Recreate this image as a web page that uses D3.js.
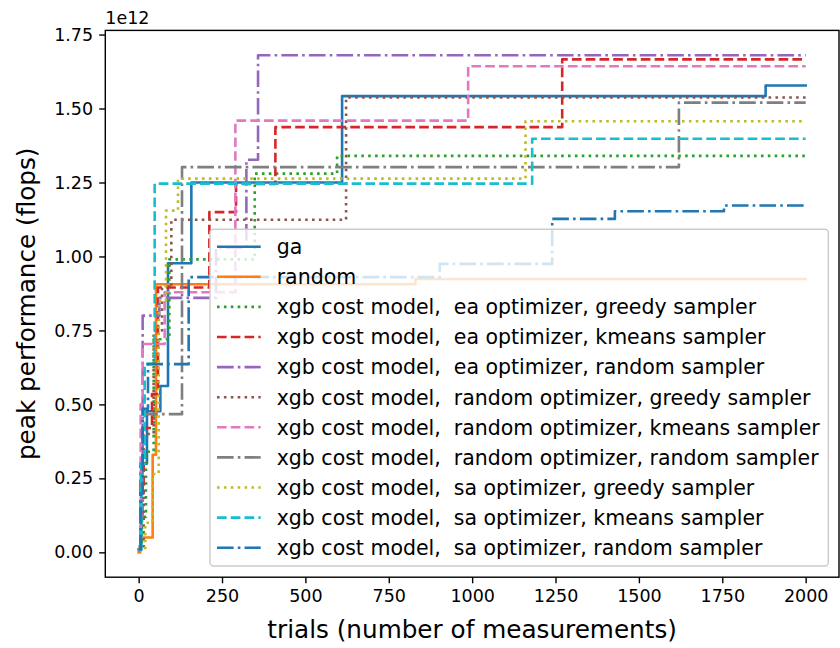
<!DOCTYPE html>
<html>
<head>
<meta charset="utf-8">
<script src="https://cdn.jsdelivr.net/npm/d3@7/dist/d3.min.js"></script>
<style>
  html, body { margin: 0; padding: 0; background: #fff; }
  svg { display: block; font-family: "DejaVu Sans", sans-serif; }
  text { white-space: pre; }
</style>
</head>
<body>
<svg id="chart" width="840" height="648"></svg>
<script>
// Best peak performance (in units of 1e12 flops) found after n trials, per tuner.
// Each series is a list of [trial, best-so-far] step points.
const seriesNames = [
  "ga",
  "random",
  "xgb cost model,  ea optimizer, greedy sampler",
  "xgb cost model,  ea optimizer, kmeans sampler",
  "xgb cost model,  ea optimizer, random sampler",
  "xgb cost model,  random optimizer, greedy sampler",
  "xgb cost model,  random optimizer, kmeans sampler",
  "xgb cost model,  random optimizer, random sampler",
  "xgb cost model,  sa optimizer, greedy sampler",
  "xgb cost model,  sa optimizer, kmeans sampler",
  "xgb cost model,  sa optimizer, random sampler"
];

const gaSteps = [[0,0.01],[8,0.3],[25,0.477],[65,0.562],[88,0.977],[158,1.25],[610,1.542],[1880,1.578],[2000,1.578]];
const randomSteps = [[0,0],[5,0.05],[42,0.33],[52,0.906],[830,0.924],[2000,0.924]];
const eaGreedySteps = [[0,0.02],[10,0.12],[22,0.34],[45,0.72],[92,0.99],[348,1.28],[595,1.34],[2000,1.34]];
const eaKmeansSteps = [[0,0.01],[6,0.2],[15,0.42],[40,0.535],[58,0.895],[212,1.15],[292,1.245],[410,1.437],[1270,1.666],[2000,1.666]];
const eaRandomSteps = [[0,0.02],[5,0.12],[12,0.8],[62,0.86],[232,1.03],[323,1.327],[358,1.68],[2000,1.68]];
const rndGreedySteps = [[0,0.01],[15,0.4],[45,0.75],[70,0.9],[98,1.124],[622,1.537],[2000,1.537]];
const rndKmeansSteps = [[0,0.02],[6,0.5],[12,0.704],[78,0.879],[290,1.459],[988,1.643],[2000,1.643]];
const rndRandomSteps = [[0,0.01],[5,0.3],[12,0.467],[130,1.302],[1620,1.52],[2000,1.52]];
const saGreedySteps = [[0,0.01],[20,0.1],[42,0.265],[60,0.85],[82,1.155],[118,1.263],[1160,1.457],[2000,1.457]];
const saKmeansSteps = [[0,0.01],[8,0.3],[18,0.637],[48,1.246],[1180,1.398],[2000,1.398]];
const saRandomSteps = [[0,0.01],[6,0.2],[12,0.485],[28,0.636],[150,0.93],[903,0.975],[1240,1.127],[1428,1.153],[1755,1.172],[2000,1.172]];

const seriesSteps = [gaSteps, randomSteps, eaGreedySteps, eaKmeansSteps, eaRandomSteps,
  rndGreedySteps, rndKmeansSteps, rndRandomSteps, saGreedySteps, saKmeansSteps, saRandomSteps];

const xTicks = [0, 250, 500, 750, 1000, 1250, 1500, 1750, 2000];
const yTicks = [0, 0.25, 0.5, 0.75, 1.0, 1.25, 1.5, 1.75];

// Styling
const palette = ["#1f77b4","#ff7f0e","#2ca02c","#d62728","#9467bd","#8c564b","#e377c2","#7f7f7f","#bcbd22","#17becf","#1f77b4"];
const lw = 2.6;
const dashFor = {
  solid: null,
  dotted: [1*lw, 1.65*lw],
  dashed: [3.7*lw, 1.6*lw],
  dashdot: [6.4*lw, 1.6*lw, 1*lw, 1.6*lw]
};
const styles = ["solid","solid","dotted","dashed","dashdot","dotted","dashed","dashdot","dotted","dashed","dashdot"];

const plot = { left: 105.3, right: 839, top: 30.4, bottom: 577.2 };
const svg = d3.select("#chart");

// Limits with 5% margin, like the usual autoscale
const allPts = seriesSteps.flat();
const xExt = d3.extent(allPts, d => d[0]);
const yExt = d3.extent(allPts, d => d[1]);
const xPad = (xExt[1] - xExt[0]) * 0.05, yPad = (yExt[1] - yExt[0]) * 0.05;

const x = d3.scaleLinear().domain([xExt[0] - xPad, xExt[1] + xPad]).range([plot.left, plot.right]);
const y = d3.scaleLinear().domain([yExt[0] - yPad, yExt[1] + yPad]).range([plot.bottom, plot.top]);

const line = d3.line().x(d => x(d[0])).y(d => y(d[1])).curve(d3.curveStepAfter);

// Series
const gLines = svg.append("g");
seriesSteps.forEach((pts, i) => {
  const p = gLines.append("path")
    .attr("d", line(pts))
    .attr("fill", "none")
    .attr("stroke", palette[i])
    .attr("stroke-width", lw)
    .attr("stroke-linejoin", "round");
  if (dashFor[styles[i]]) p.attr("stroke-dasharray", dashFor[styles[i]].join(","));
  else p.attr("stroke-linecap", "square");
});

// Axes
const tickLen = 6.1, tickPad = 6.1;
const xAxis = d3.axisBottom(x).tickValues(xTicks).tickFormat(d3.format("d"))
  .tickSizeInner(tickLen).tickSizeOuter(0).tickPadding(tickPad);
const yAxis = d3.axisLeft(y).tickValues(yTicks).tickFormat(d3.format(".2f"))
  .tickSizeInner(tickLen).tickSizeOuter(0).tickPadding(tickPad);

const gx = svg.append("g").attr("transform", `translate(0,${plot.bottom})`).call(xAxis);
const gy = svg.append("g").attr("transform", `translate(${plot.left},0)`).call(yAxis);
[gx, gy].forEach(g => {
  g.select(".domain").remove();
  g.selectAll(".tick line").attr("stroke", "#000").attr("stroke-width", 1.4);
  g.selectAll(".tick text").attr("fill", "#000").attr("font-size", 17.5)
    .attr("font-family", "DejaVu Sans");
});

// Frame
svg.append("rect")
  .attr("x", plot.left).attr("y", plot.top)
  .attr("width", plot.right - plot.left).attr("height", plot.bottom - plot.top)
  .attr("fill", "none").attr("stroke", "#000").attr("stroke-width", 1.4);

// Scale offset text
svg.append("text").attr("x", plot.left).attr("y", 24)
  .attr("font-size", 17.5).attr("fill", "#000").text("1e12");

// Axis titles
svg.append("text")
  .attr("x", (plot.left + plot.right) / 2).attr("y", 638)
  .attr("text-anchor", "middle").attr("font-size", 24.7).attr("fill", "#000")
  .text("trials (number of measurements)");
svg.append("text")
  .attr("transform", `translate(35,${(plot.top + plot.bottom) / 2}) rotate(-90)`)
  .attr("text-anchor", "middle").attr("font-size", 24.7).attr("fill", "#000")
  .text("peak performance (flops)");

// Legend
const leg = { x: 210, y: 229.3, w: 618.3, h: 336.7, row0: 246.7, rowStep: 30.1 };
const gLeg = svg.append("g");
gLeg.append("rect")
  .attr("x", leg.x).attr("y", leg.y).attr("width", leg.w).attr("height", leg.h)
  .attr("rx", 3.5).attr("ry", 3.5)
  .attr("fill", "#fff").attr("fill-opacity", 0.8)
  .attr("stroke", "#cccccc").attr("stroke-width", 1.4);
seriesNames.forEach((name, i) => {
  const cy = leg.row0 + i * leg.rowStep;
  const h = gLeg.append("line")
    .attr("x1", 217).attr("x2", 260.7).attr("y1", cy).attr("y2", cy)
    .attr("stroke", palette[i]).attr("stroke-width", lw);
  if (dashFor[styles[i]]) h.attr("stroke-dasharray", dashFor[styles[i]].join(","));
  gLeg.append("text")
    .attr("x", 276.7).attr("y", cy).attr("dy", "0.36em")
    .attr("font-size", 20.5).attr("fill", "#000")
    .text(name);
});
</script>
</body>
</html>
